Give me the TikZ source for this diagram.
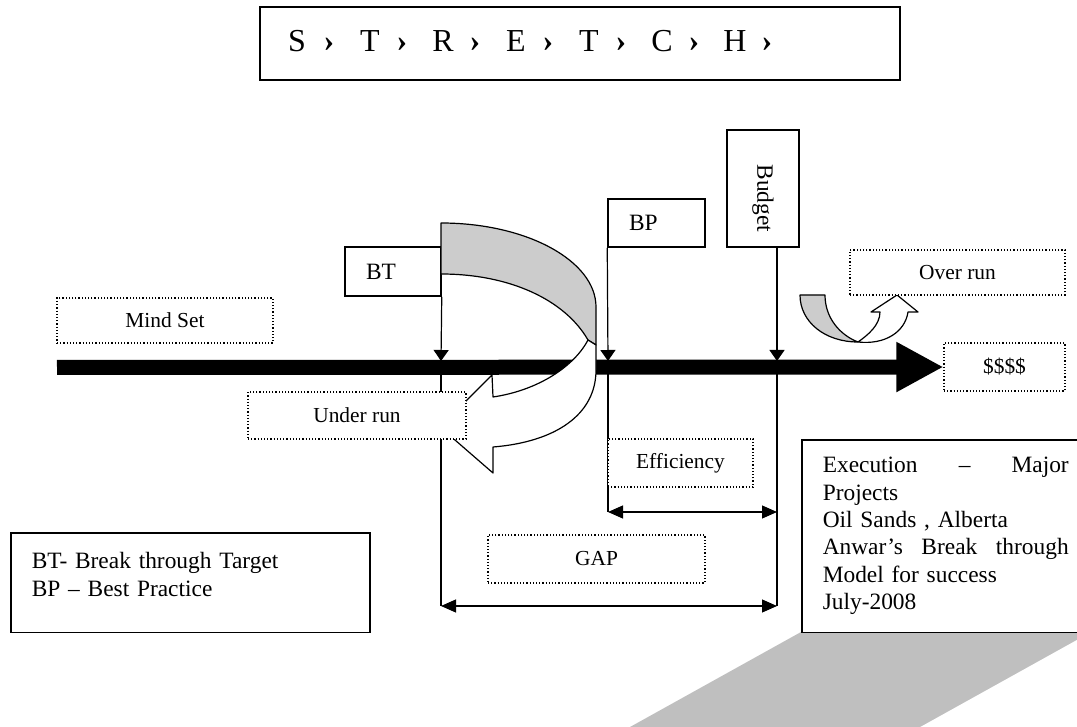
\documentclass[tikz,border=0pt]{standalone}
\usepackage{fontspec}
\setmainfont{Liberation Serif}
\usetikzlibrary{arrows.meta}

\begin{document}
\begin{tikzpicture}
[x=0.5pt,y=-0.5pt,font=\fontsize{10.7}{13}\selectfont,
 solidbox/.style={draw,line width=0.75pt,fill=white,inner sep=0pt,font=\fontsize{11.7}{13.7}\selectfont},
 dotbox/.style={draw,densely dotted,line width=0.6pt,fill=white,inner sep=0pt},
 tagbox/.style={solidbox,inner xsep=10.5pt,align=left,minimum height=24.5pt},
 tick/.style={line width=0.6pt,-{Triangle[length=5.5pt,width=7.5pt]}},
 span/.style={line width=0.6pt,{Triangle[length=7.5pt,width=6.5pt]}-{Triangle[length=7.5pt,width=6.5pt]}},
 band/.style={draw,line width=0.6pt,line join=round},
 big/.style={font=\fontsize{16}{19}\selectfont,anchor=base}]
\useasboundingbox (0,0) rectangle (1077,727);

% shadow of the notes box
\fill[black!25] (801,632) -- (1091,632) -- (920,727) -- (630,727) -- cycle;

% title strip
\node[solidbox,minimum width=320pt,minimum height=36.5pt] (title) at (580,43.5) {};
\foreach \c [count=\i] in {S,T,R,E,T,C,H}
 {\node[big] (l\i) at (224+73*\i,52) {\c};
  \node[big] (g\i) at (256+73*\i,52) {\textbf{›}};}

% markers above the line
\node[tagbox,text width=27pt] (bt) at (393,271.5) {BT};
\node[tagbox,text width=27.5pt,minimum height=24pt] (bp) at (656.5,223) {BP};
\node[solidbox,rotate=-90,minimum width=58.5pt,minimum height=36pt,
 text width=43.5pt,align=right,inner xsep=7.5pt] (budget) at (763,188.5) {Budget};

\coordinate (btTop) at (441,361);
\coordinate (bpTop) at (608,361);
\coordinate (budTop) at (777,361);
\coordinate (effL) at (608,512);
\coordinate (effR) at (777,512);
\coordinate (gapL) at (441,606);
\coordinate (gapR) at (777,606);

% lines down to the spans
\draw[line width=0.6pt] (btTop) -- (gapL);
\draw[line width=0.6pt] (bpTop) -- (effL);
\draw[line width=0.6pt] (budTop) -- (gapR);

% the time line
\coordinate (barL) at (57,367.5);
\node[dotbox,minimum width=60.5pt,minimum height=24pt] (money) at (1004.5,367) {\$\$\$\$};
\draw[line width=7.5pt,-{Triangle[length=23.5pt,width=23.5pt]}] (barL) -- (money.west);

\draw[tick] (bt.south east) -- (btTop);
\draw[tick] (bp.south west) -- (bpTop);
\draw[tick] (budget.east -| budTop) -- (budTop);

\draw[span] (effL) -- (effR);
\draw[span] (gapL) -- (gapR);

% under run turn
\filldraw[band,fill=black!20] (441,223) .. controls (527,223) and (596,261) .. (596,307)
 -- (596,345) -- (588,340) .. controls (565,300) and (510,274) .. (441,274) -- cycle;
\filldraw[band,fill=white] (588,340) .. controls (575,365) and (540,390) .. (493,397)
 -- (492,375) -- (440,427) -- (493,473) -- (493,447)
 .. controls (555,442) and (596,415) .. (596,370) -- (596,345) -- cycle;

% over run turn
\filldraw[band,fill=black!20] (800,295) .. controls (800,322) and (825,342) .. (858,342)
 .. controls (840,335) and (825,318) .. (825,295) -- cycle;
\filldraw[band,fill=white] (858,342) .. controls (868,335) and (880,325) .. (880,312)
 -- (871,312) -- (897,295) -- (918,312) -- (908,312)
 .. controls (905,332) and (885,345) .. (858,342) -- cycle;

% labels
\node[dotbox,minimum width=108pt,minimum height=22.5pt] (mind) at (165,320.5) {Mind Set};
\node[dotbox,minimum width=109pt,minimum height=23.5pt] (under) at (357,415.5) {Under run};
\node[dotbox,minimum width=72.5pt,minimum height=24pt] (eff) at (680.5,463) {Efficiency};
\node[dotbox,minimum width=108.5pt,minimum height=24pt] (gap) at (596.5,559) {GAP};
\node[dotbox,minimum width=107.5pt,minimum height=22.5pt] (over) at (957.5,272.5) {Over run};

% key and notes
\node[solidbox,anchor=north west,text width=158.5pt,align=left,inner xsep=10.5pt,
 inner ysep=10pt] (key) at (10,532) {BT- Break through Target\\BP – Best Practice\rule[-8pt]{0pt}{8pt}};
\node[solidbox,anchor=north west,text width=123pt,align=left,inner xsep=10.5pt,
 inner ysep=8.75pt] (notes) at (801,439) {Execution\hfill–\hfill Major\\Projects\\
 Oil Sands , Alberta\\Anwar’s\hfill Break\hfill through\\Model for success\\July-2008};

\end{tikzpicture}
\end{document}
